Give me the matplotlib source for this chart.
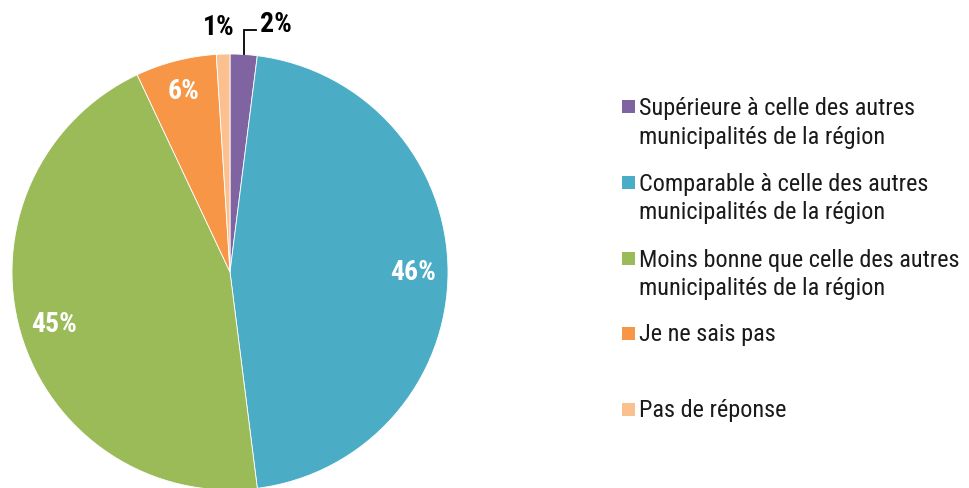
import matplotlib
matplotlib.use("Agg")
import matplotlib.pyplot as plt
from matplotlib import font_manager
from matplotlib.patches import Rectangle
import numpy as np

flist = font_manager.fontManager.ttflist
names = {f.name for f in flist}
bold_names = {f.name for f in flist if (f.weight if isinstance(f.weight, int) else 400) >= 700 or f.weight == 'bold'}
pref = ['Liberation Sans Narrow', 'Roboto Condensed', 'PT Sans Narrow', 'Archivo Narrow', 'Asap Condensed']
REG = next((n for n in pref if n in names), 'Liberation Sans')
BOLD = next((n for n in pref if n in bold_names), REG)
plt.rcParams['font.family'] = [REG, 'DejaVu Sans']

categories = [
    "Supérieure à celle des autres\nmunicipalités de la région",
    "Comparable à celle des autres\nmunicipalités de la région",
    "Moins bonne que celle des autres\nmunicipalités de la région",
    "Je ne sais pas",
    "Pas de réponse",
]
values = [2, 46, 45, 6, 1]
pct_labels = ["2%", "46%", "45%", "6%", "1%"]
colors = ["#8064A2", "#4BACC6", "#9BBB59", "#F79646", "#FAC090"]

W, H = 970, 489
fig = plt.figure(figsize=(W / 100, H / 100), dpi=100)
cx, cy, R = 230, 273, 218
ax = fig.add_axes([(cx - R) / W, (H - cy - R) / H, 2 * R / W, 2 * R / H])
wedges, _ = ax.pie(values, colors=colors, startangle=90, counterclock=False,
                   radius=1, wedgeprops=dict(linewidth=0.6, edgecolor='white'))
ax.set_xlim(-1, 1)
ax.set_ylim(-1, 1)
ax.axis('off')

lab_kw = dict(fontsize=20, fontweight='bold', family=[BOLD, 'DejaVu Sans'],
              ha='center', va='center')

# inside labels
for i in (1, 2, 3):
    w = wedges[i]
    mid = np.deg2rad((w.theta1 + w.theta2) / 2)
    r = 0.84 if i != 3 else 0.86
    ax.text(r * np.cos(mid), r * np.sin(mid), pct_labels[i], color='white', **lab_kw)

# 1% label outside
ax.text(-0.05, 1.128, pct_labels[4], color='black', **lab_kw)

# 2% label with leader line
w = wedges[0]
mid = np.deg2rad((w.theta1 + w.theta2) / 2)
x0, y0 = np.cos(mid), np.sin(mid)
ax.plot([x0, x0, 0.119], [y0, 1.108, 1.108], color='black', lw=1.3,
        clip_on=False, solid_joinstyle='miter')
ax.text(0.21, 1.138, pct_labels[0], color='black', **lab_kw)

# legend
marker_y = [107.5, 183, 259, 334, 410]
for lab, col, my in zip(categories, colors, marker_y):
    fig.patches.append(Rectangle((622 / W, 1 - (my + 6.5) / H), 13 / W, 13 / H,
                                 transform=fig.transFigure, facecolor=col,
                                 edgecolor='none'))
    if '\n' in lab:
        fig.text(639 / W, 1 - (my + 15.5) / H, lab, fontsize=17.5, color='#1a1a1a',
                 ha='left', va='center', linespacing=1.3)
    else:
        fig.text(639 / W, 1 - (my + 1) / H, lab, fontsize=17.5, color='#1a1a1a',
                 ha='left', va='center')

fig.savefig("out.png", dpi=100)
